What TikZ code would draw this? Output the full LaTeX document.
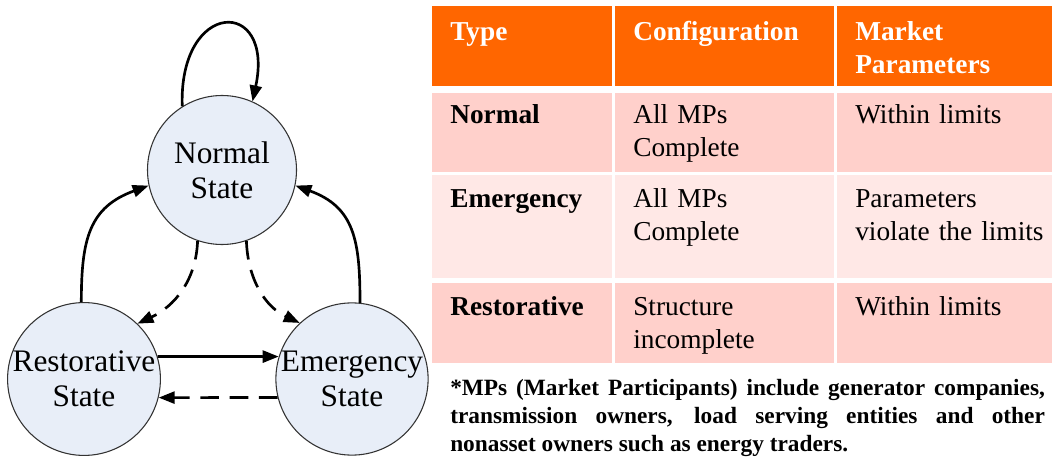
\documentclass[tikz,border=0pt]{standalone}
\usepackage{fontspec}
\setmainfont{Liberation Serif}
\usetikzlibrary{arrows.meta,positioning}
\definecolor{stateblue}{RGB}{232,238,248}
\definecolor{headorange}{RGB}{255,102,0}
\definecolor{rowpink}{RGB}{255,208,203}
\definecolor{rowpale}{RGB}{255,232,230}

\begin{document}
\begin{tikzpicture}[x=0.75pt, y=0.75pt,
    state/.style={circle, draw=black!80, line width=0.8pt, fill=stateblue, minimum size=111.75pt,
                  inner sep=0pt, align=center, font=\fontsize{23.5}{26}\selectfont},
    arr/.style={-{Triangle[length=12pt,width=9pt]}, line width=2pt},
    dasharr/.style={arr, dash pattern=on 14pt off 8pt},
    cell/.style={anchor=base west, inner sep=0pt, text width=150pt, align=left,
                 font=\fontsize{20.5}{24.75}\selectfont},
    head/.style={cell, text=white, font=\bfseries\fontsize{20.5}{24.75}\selectfont}
]
    \useasboundingbox (0,0) rectangle (1052,457);

    % states
    \node[state] (normal) at (222,287) {Normal\\State};
    \node[state] (restorative) at (84,78) {Restorative\\State};
    \node[state] (emergency) at (352,78) {Emergency\\State};

    \draw[arr] (normal.122) to[out=92,in=78,looseness=3.9] (normal.66);
    \draw[arr] (restorative.92) to[out=90,in=200,looseness=1.2] (normal.192);
    \draw[arr] (emergency.84) to[out=90,in=-20,looseness=1.2] (normal.348);
    \draw[dasharr] (normal.251) to[out=-92,in=25] (restorative.46);
    \draw[dasharr] (normal.289) to[out=-88,in=155] (emergency.133);
    \draw[arr] (restorative.17) -- (emergency.163);
    \draw[dasharr] (emergency.194) -- (restorative.346);

    % table cells
    \foreach \xa/\xb in {432/612, 615/834, 837/1052} {
        \fill[headorange] (\xa,451) rectangle (\xb,371);
        \fill[rowpink] (\xa,364) rectangle (\xb,285);
        \fill[rowpale] (\xa,282) rectangle (\xb,179);
        \fill[rowpink] (\xa,174) rectangle (\xb,94);
    }

    \node[head] (hdtype) at (450,416) {Type};
    \node[head] (hdconf) at (633,416) {Configuration};
    \node[head] (hdpar) at (855,416) {Market\\Parameters};

    \node[cell, font=\bfseries\fontsize{20.5}{24.75}\selectfont] (tynormal) at (450,333) {Normal};
    \node[cell] (cfnormal) at (633,333) {All MPs\\Complete};
    \node[cell] (pmnormal) at (855,333) {Within limits};

    \node[cell, font=\bfseries\fontsize{20.5}{24.75}\selectfont] (tyemerg) at (450,249) {Emergency};
    \node[cell] (cfemerg) at (633,249) {All MPs\\Complete};
    \node[cell] (pmemerg) at (855,249) {Parameters\\violate the limits};

    \node[cell, font=\bfseries\fontsize{20.5}{24.75}\selectfont] (tyrest) at (450,142) {Restorative};
    \node[cell] (cfrest) at (633,142) {Structure\\incomplete};
    \node[cell] (pmrest) at (855,142) {Within limits};

    % footnote
    \node[anchor=base west, inner sep=0pt, text width=446pt, align=justify,
          font=\bfseries\fontsize{17.5}{21}\selectfont] (mpnote) at (450,62)
        {*MPs (Market Participants) include generator companies,\linebreak
         transmission owners, load serving entities and other\linebreak
         nonasset owners such as energy traders.};
\end{tikzpicture}
\end{document}
